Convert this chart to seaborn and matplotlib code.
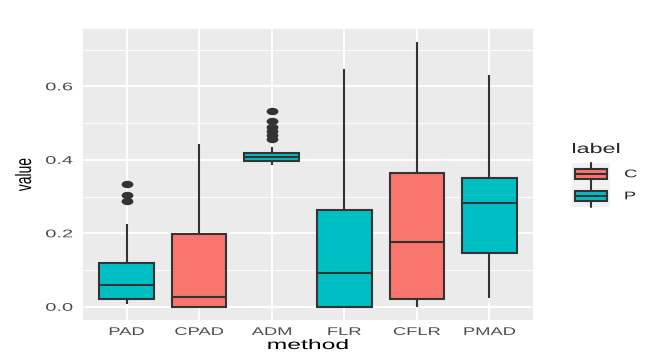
import numpy as np
import pandas as pd
import seaborn as sns
import matplotlib
matplotlib.use("Agg")
from matplotlib import pyplot as plt
from matplotlib.patches import Patch, Rectangle
from matplotlib.lines import Line2D
from matplotlib.legend_handler import HandlerBase
from matplotlib.patheffects import AbstractPathEffect
from matplotlib.transforms import Affine2D
from matplotlib.path import Path

methods = ["PAD", "CPAD", "ADM", "FLR", "CFLR", "PMAD"]
method_labels = ["P", "C", "P", "P", "C", "P"]

# raw values per method (whiskers, quartiles, median, outliers)
pad_values = [0.008, 0.012, 0.016, 0.019, 0.022, 0.035, 0.045, 0.053, 0.060,
              0.075, 0.090, 0.105, 0.118, 0.225, 0.288, 0.304, 0.334]
cpad_values = [0.0, 0.0, 0.0, 0.012, 0.027, 0.090, 0.197, 0.310, 0.444]
adm_values = [0.386, 0.389, 0.391, 0.393, 0.394, 0.395, 0.396, 0.397,
              0.399, 0.401, 0.402, 0.404, 0.405, 0.406, 0.407,
              0.409, 0.410, 0.412, 0.414, 0.416, 0.418, 0.419,
              0.435, 0.457, 0.467, 0.478, 0.490, 0.505, 0.532]
flr_values = [0.0, 0.0, 0.0, 0.040, 0.091, 0.170, 0.263, 0.450, 0.647]
cflr_values = [0.0, 0.010, 0.022, 0.090, 0.175, 0.260, 0.365, 0.530, 0.720]
pmad_values = [0.025, 0.090, 0.145, 0.220, 0.282, 0.320, 0.350, 0.500, 0.632]

all_values = [pad_values, cpad_values, adm_values, flr_values, cflr_values, pmad_values]

palette = {"C": "#F8766D", "P": "#00BFC4"}
edge = "#333333"

rows = []
for m, lab, vals in zip(methods, method_labels, all_values):
    for v in vals:
        rows.append((m, lab, v))
df = pd.DataFrame(rows, columns=["method", "label", "value"])


class Stretch(AbstractPathEffect):
    """widen text horizontally (device space) around an anchor"""

    def __init__(self, sx=1.65, anchor=0.5, left=None):
        super().__init__()
        self.sx = sx
        self.anchor = anchor
        self.left = left  # optional fixed left edge in pixels

    def draw_path(self, renderer, gc, tpath, affine, rgbFace=None):
        ext = tpath.transformed(affine).get_extents()
        if self.left is not None:
            shift = Affine2D().translate(-ext.x0, 0).scale(self.sx, 1).translate(self.left, 0)
        else:
            x0 = ext.x0 + self.anchor * ext.width
            shift = Affine2D().translate(-x0, 0).scale(self.sx, 1).translate(x0, 0)
        renderer.draw_path(gc, tpath, affine + shift, rgbFace)


class BoxKey(HandlerBase):
    def create_artists(self, legend, orig_handle, xdescent, ydescent, width, height, fontsize, trans):
        x0, y0 = -xdescent, -ydescent
        fc = orig_handle.get_facecolor()
        bg = Rectangle((x0, y0), width, height, fc="#F2F2F2", ec="none", transform=trans)
        bx, bw = x0 + width * 0.09, width * 0.82
        by, bh = y0 + height * 0.25, height * 0.48
        box = Rectangle((bx, by), bw, bh, fc=fc, ec=edge, lw=1.5, transform=trans)
        cy = by + bh / 2
        cx = x0 + width / 2
        med = Line2D([bx, bx + bw], [cy, cy], color=edge, lw=1.5, transform=trans)
        wt = Line2D([cx, cx], [by + bh, y0 + height], color=edge, lw=1.5, transform=trans)
        wb = Line2D([cx, cx], [y0, by], color=edge, lw=1.5, transform=trans)
        return [bg, wt, wb, box, med]


sns.set_style("darkgrid", {"axes.facecolor": "#EBEBEB", "grid.color": "white"})
plt.rcParams["font.family"] = ["Liberation Sans", "DejaVu Sans"]

fig = plt.figure(figsize=(6.64, 3.6), dpi=100)
ax = fig.add_axes([83 / 664, 40 / 360, 450 / 664, 291 / 360])

flier_marker = Path.unit_circle().transformed(Affine2D().scale(1.6, 1.0))

sns.boxplot(data=df, x="method", y="value", hue="label", order=methods, hue_order=["C", "P"],
            palette=palette, dodge=False, width=0.75, saturation=1, linecolor=edge,
            linewidth=1.5, showcaps=False, legend=False, ax=ax,
            flierprops=dict(marker=flier_marker, markersize=8.5, markerfacecolor=edge,
                            markeredgecolor=edge, markeredgewidth=0))

ax.set_xlim(-0.6, len(methods) - 0.4)
ax.set_ylim(-0.036, 0.756)
ax.set_yticks([0.0, 0.2, 0.4, 0.6])
ax.set_yticklabels(["0.0", "0.2", "0.4", "0.6"])
ax.set_yticks([0.1, 0.3, 0.5, 0.7], minor=True)

ax.set_axisbelow(True)
ax.grid(which="major", axis="both", color="white", lw=1.4)
ax.grid(which="minor", axis="y", color="white", lw=0.7)
for s in ax.spines.values():
    s.set_visible(False)

ax.tick_params(which="major", length=4, width=1.1, color=edge, labelcolor="#4D4D4D",
               labelsize=8, pad=3.5)
ax.tick_params(axis="x", pad=1)
ax.tick_params(which="minor", length=0)

ax.set_xlabel("method", fontsize=10, color="black", va="center")
ax.set_ylabel("value", fontsize=10, color="black", va="center")
ax.xaxis.set_label_coords(0.5, -0.086)
ax.yaxis.set_label_coords(-0.131, 0.5)

ax.xaxis.label.set_path_effects([Stretch(1.78, 0.5)])
ax.yaxis.label.set_path_effects([Stretch(1.6, 0.5)])
for t in ax.get_xticklabels():
    t.set_path_effects([Stretch(1.65, 0.5)])
for t in ax.get_yticklabels():
    t.set_path_effects([Stretch(1.8, 1.0)])

handles = [Patch(facecolor=palette[k], edgecolor=edge) for k in ["C", "P"]]
leg = fig.legend(handles, ["C", "P"], title="label", loc="upper left",
                 bbox_to_anchor=(572 / 664, 1 - 142 / 360), frameon=False,
                 fontsize=8, title_fontsize=10, handlelength=3.42, handleheight=2.67,
                 labelspacing=0, handletextpad=1.3, borderpad=0, borderaxespad=0,
                 alignment="left", handler_map={Patch: BoxKey()})
leg._legend_box.sep = 5
for t in leg.get_texts():
    t.set_path_effects([Stretch(1.65, 0.0)])

# line the title up with the left edge of the keys
fig.canvas.draw()
key_left = leg.legend_handles[0].get_window_extent(fig.canvas.get_renderer()).x0
leg.get_title().set_path_effects([Stretch(1.68, left=key_left + 1)])

fig.savefig("out.png", dpi=100)
